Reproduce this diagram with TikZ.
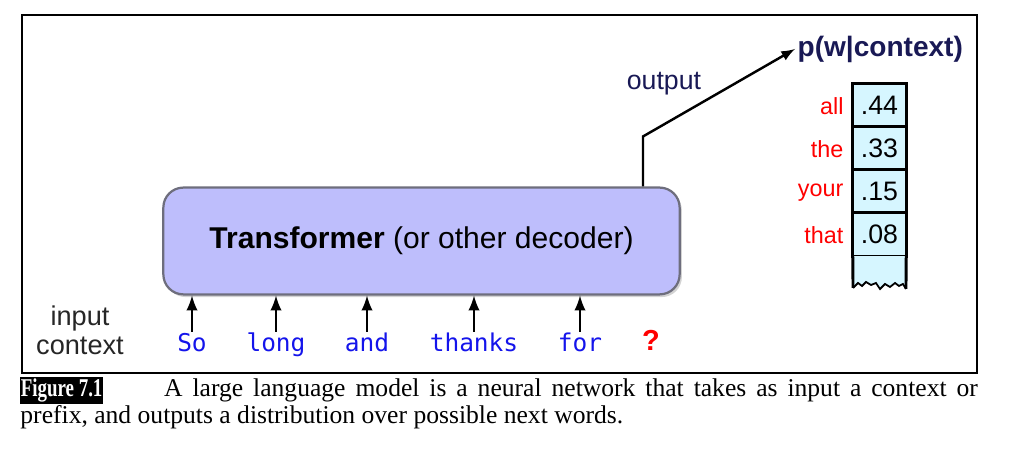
\documentclass[tikz,border=0pt]{standalone}
\usepackage{fontspec}
\setmainfont{Liberation Serif}
\newfontfamily\hv{Liberation Sans}
\newfontfamily\mono{DejaVu Sans Mono}
\usetikzlibrary{shadows}
\definecolor{tfblue}{RGB}{190,190,252}
\definecolor{tfline}{RGB}{110,110,125}
\definecolor{probcyan}{RGB}{214,246,255}
\definecolor{navy}{RGB}{25,25,85}
\definecolor{wordblue}{RGB}{20,20,235}
\begin{document}
\begin{tikzpicture}[x=0.0158cm, y=-0.0158cm,
  tf/.style={draw=tfline, line width=1pt, fill=tfblue, rounded corners=9pt, minimum width=232pt, minimum height=48pt,
    drop shadow={opacity=0.35, shadow xshift=1pt, shadow yshift=-1.2pt}, font=\hv\fontsize{13.5}{16}\selectfont},
  word/.style={font=\mono\fontsize{11}{13}\selectfont, text=wordblue, anchor=base, inner sep=0pt, text height=9pt, text depth=2.5pt},
  prob/.style={draw, line width=1.3pt, fill=probcyan, outer sep=0pt, minimum width=24pt, minimum height=19.4pt, font=\hv\fontsize{12}{14}\selectfont},
  cand/.style={font=\hv\fontsize{10.5}{12}\selectfont, text=red, anchor=east, inner sep=0pt},
  lbl/.style={font=\hv\fontsize{12}{13.5}\selectfont},
  inarrow/.style={-latex, line width=1.3pt},
]
\useasboundingbox (0,0) rectangle (1024,460);
\draw[line width=1.3pt] (22,15) rectangle (977,373);
% decoder
\node[tf] (tf) at (421.5,241) {\textbf{Transformer} (or other decoder)};
\node[font=\hv\fontsize{12.2}{13.2}\selectfont, align=center, text=black!85] (inlbl) at (80,330) {input\\context};
\foreach \w/\x [count=\i] in {So/192, long/276, and/367, thanks/474, for/580}{
  \node[word] (w\i) at (\x,352) {\w};
  \draw[inarrow] (w\i.north) -- (w\i.north |- tf.south);
}
\node[font=\hv\bfseries\fontsize{13}{15}\selectfont, text=red, anchor=base] (q) at (651,351) {?};
% output distribution
\node[font=\hv\bfseries\fontsize{12.6}{15}\selectfont, text=navy, anchor=west, inner sep=1pt] (pw) at (795,49) {p(w|context)};
\node[lbl, text=navy] (outlbl) at (664,84) {output};
\draw[line width=1.1pt, -latex] (tf.north -| 643,0) -- ++(0,-50) -- (pw.west);
\foreach \w/\p [count=\i] in {all/.44, the/.33, your/.15, that/.08}{
  \node[prob] (p\i) at (879.5,62.5+43*\i) {\p};
  \node[cand] (c\i) at ([xshift=-4pt,yshift=-0.5pt]p\i.west) {\w};
}
\fill[probcyan] (p4.south west) -- (853,288) -- (858,283) -- (862,286) -- (866,282) -- (871,285) -- (876,283) -- (880,289) -- (885,284) -- (890,287) -- (895,283) -- (899,286) -- (903,284) -- (906,289) -- (p4.south east) -- cycle;
\draw[line width=1.3pt] (p4.south west) -- (853,288);
\draw[line width=1.3pt] (p4.south east) -- (906,289);
\draw[line width=0.8pt] (853,288) -- (858,283) -- (862,286) -- (866,282) -- (871,285) -- (876,283) -- (880,289) -- (885,284) -- (890,287) -- (895,283) -- (899,286) -- (903,284) -- (906,289);
% caption
\node[anchor=north west, inner sep=0pt, text width=15.12cm, align=justify, font=\fontsize{11.5}{12.2}\selectfont] (cap) at (20,376.5)
  {\setlength{\fboxsep}{0pt}\colorbox{black}{\makebox[37pt]{\rule[-3.2pt]{0pt}{12pt}\color{white}\bfseries\scalebox{0.74}[1]{Figure 7.1}}}\hspace{2.4em}A large language model is a neural network that takes as input a context or\linebreak prefix, and outputs a distribution over possible next words.};
\end{tikzpicture}
\end{document}
